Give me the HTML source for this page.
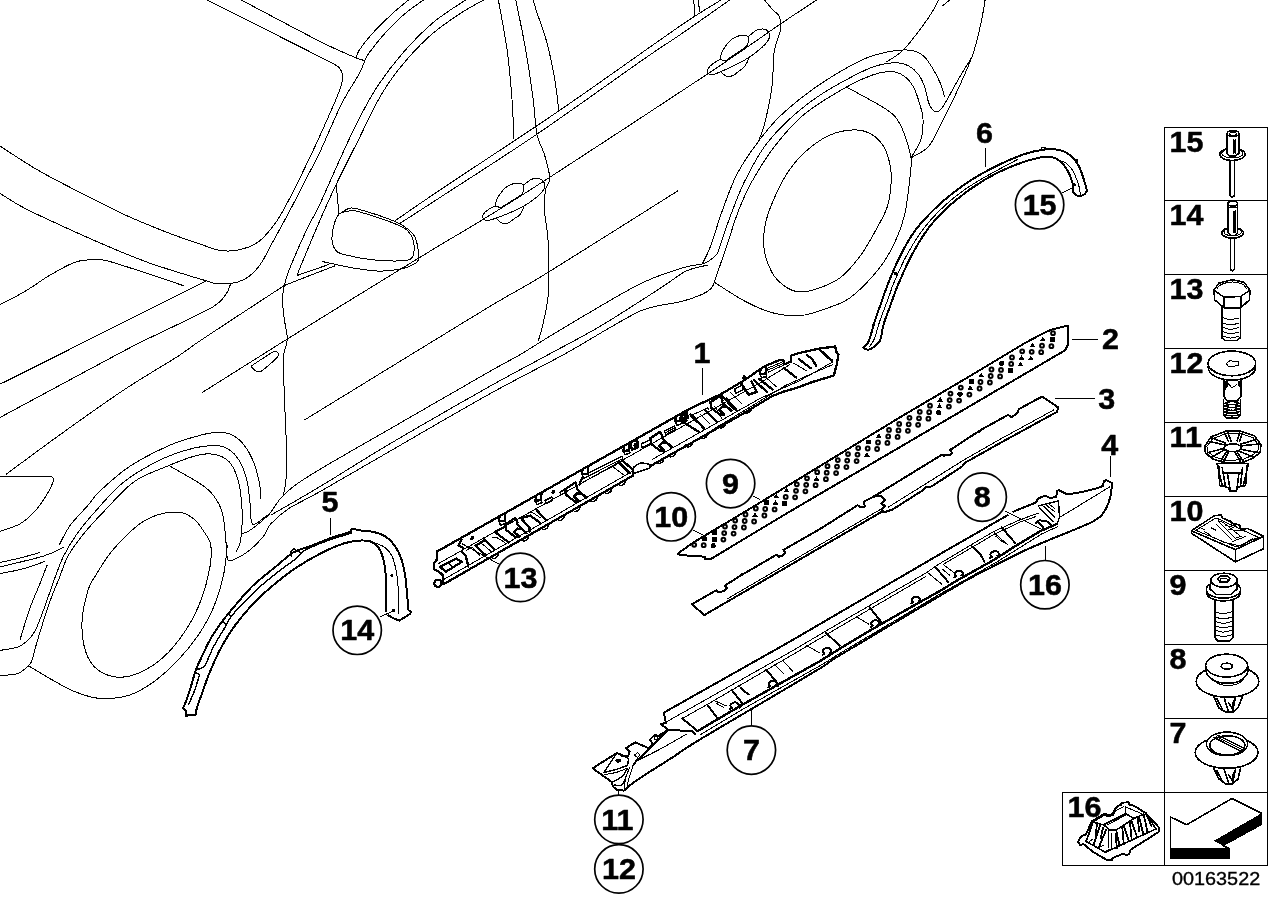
<!DOCTYPE html>
<html lang="en"><head><meta charset="utf-8"><title>Side skirt / wheel arch trim - parts diagram 00163522</title>
<style>
html,body{margin:0;padding:0;background:#fff;}
body{width:1288px;height:910px;overflow:hidden;}
svg{display:block;}
text{font-family:"Liberation Sans",sans-serif;fill:#000;}
.b{font-weight:bold;font-size:29.2px;stroke:#000;stroke-width:0.5px;stroke-linejoin:round;}
.car{fill:none;stroke:#000;stroke-width:1;}
.pt{fill:none;stroke:#000;stroke-width:2;stroke-linejoin:round;stroke-linecap:round;}
.pm{fill:none;stroke:#000;stroke-width:1.4;stroke-linejoin:round;stroke-linecap:round;}
.pn{fill:none;stroke:#000;stroke-width:1;}
.ld{fill:none;stroke:#000;stroke-width:1;}
.circ{fill:#fff;stroke:#000;stroke-width:1.7;}
.tb{fill:none;stroke:#000;stroke-width:1;}
.k{fill:#000;stroke:none;}
.w{fill:#fff;}
</style></head><body>
<svg width="1288" height="910" viewBox="0 0 1288 910" shape-rendering="crispEdges">
<rect x="0" y="0" width="1288" height="910" fill="#fff"/>
<g class="car">
<path d="M333,63.4 C334,64.1 337.4,65.7 339,67.5 C340.6,69.3 342.2,71.7 342.6,74.5 C343,77.3 342.8,79.5 341.4,84.5 C339.9,89.5 339.3,91.9 333.9,104.3 C328.5,116.7 317.4,141.6 309.1,159 C300.8,176.4 290.3,197.4 284.2,208.7 C278.1,220 276.8,221.5 272.5,227 C268.2,232.5 263.9,238 258.4,241.8 C252.9,245.6 246,248.4 239.6,249.8 C233.2,251.2 226.4,251.4 219.8,250.4 C213.2,249.4 208.5,246.9 200,244 C191.5,241.1 181.5,238 168.9,233.1 C156.3,228.2 139.9,221.8 124.2,214.5 C108.5,207.2 89,197 74.5,189.6 C60,182.2 49.7,177.1 37.3,169.8 C24.9,162.6 6.2,150.1 0,146.1 M241.2,0 C254.6,7 302.3,32.6 321.5,42.2 C340.7,51.9 349.1,54.9 356.3,57.9 C363.6,60.9 363.6,60 365,60.4 M356.3,57.9 C356.7,56.7 356.3,54.8 358.8,50.9 C361.3,47 365.8,40.8 371.2,34.8 C376.6,28.8 384.8,20.7 391,14.9 C397.2,9.1 405.5,2.5 408.4,0 M365,60.4 C365.6,59.2 365.6,57.7 368.7,53.4 C371.8,49.1 377.8,41.2 383.6,34.8 C389.4,28.4 396.9,20.7 403.5,14.9 C410.1,9.1 420.1,2.5 423.4,0 M365,60.4 C364,62.8 362.7,67.2 358.8,74.5 C354.9,81.8 348,91 341.4,104.3 C334.8,117.5 325,141.4 319,154 C313,166.6 310,171.2 305.5,180 C301,188.8 296.1,198.7 292,206.5 C287.9,214.3 284.7,220.2 281,227 C277.3,233.8 273.2,241.2 270,247 C266.8,252.8 264.7,257.7 262,261.9 C259.3,266.1 256.9,269.1 254,272 C251.1,274.9 248.4,277.4 244.6,279.3 C240.8,281.2 235.8,282.8 231.1,283.5 C226.3,284.2 220.2,283.9 216.1,283.5 C211.9,283.1 211.6,282.4 206.2,280.8 C200.8,279.2 193.4,277.1 183.9,274.1 C174.4,271.1 161.1,267.2 149.1,262.9 C137.1,258.5 125,253.6 111.8,248 C98.5,242.4 84.1,236 69.6,229.4 C55.1,222.8 36.4,214.3 24.8,208.3 C13.2,202.3 4.1,195.9 0,193.4 M465.6,0 C460.2,3.7 443.7,13.7 433.3,22.4 C422.9,31.1 412.6,41.9 403.5,52.2 C394.4,62.6 386.1,73.3 378.6,84.5 C371.2,95.7 365.4,106.5 358.8,119.3 C352.2,132.1 345.5,147 338.9,161.5 C332.3,176 324.3,194.9 319,206.2 C313.7,217.4 311.9,218.5 307,229 C302.1,239.5 293.1,260 289.3,269.4 C285.5,278.8 285.1,282.8 284.3,285.5 M483.5,0 C479.3,2.5 467.3,8.7 458.1,14.9 C448.9,21.1 438.2,28.2 428.3,37.3 C418.4,46.4 406.8,59.2 398.5,69.6 C390.2,79.9 385.2,87.8 378.6,99.4 C372,111 365.8,125 358.8,139.1 C351.8,153.2 343.3,169.4 336.4,183.9 C329.5,198.4 324.1,210.7 317.5,226 C310.9,241.3 300.2,267.3 296.8,275.6 M284.3,285.5 C290.1,283.2 310.6,275.2 319.1,271.9 C327.6,268.6 332.6,266.7 335.3,265.7 M339,214.2 C340.6,213.2 345.6,209.3 348.9,208.5 C352.2,207.7 351.4,207.2 358.9,209.3 C366.4,211.4 385.4,217.5 393.7,220.9 C402,224.3 404.9,226.5 408.6,229.6 C412.3,232.7 414.4,234.8 416,239.6 C417.6,244.4 418.9,254.1 418.5,258.2 C418.1,262.3 416.8,262.5 413.5,264.4 C410.2,266.3 404.4,268.3 398.6,269.4 C392.8,270.5 386.2,271.3 378.8,271.1 C371.4,270.9 363.4,269.7 353.9,268.1 C344.4,266.5 327,262.5 321.6,261.4 M348.9,211 C347.2,211.5 341.5,211.9 339,214.2 C336.5,216.5 335.2,220.5 334,224.7 C332.8,228.9 331.8,235.5 332,239.6 C332.2,243.7 333.3,247 335.3,249.5 C337.3,252 337.6,252.8 344,254.5 C350.4,256.2 363.9,258.9 373.8,259.9 C383.7,260.9 397.2,261.2 403.6,260.7 C410,260.2 410.6,259.7 412.3,257 C414,254.3 414.4,248.4 414,244.5 C413.6,240.6 412.4,236.6 409.8,233.4 C407.2,230.2 407.1,228.8 398.6,225.2 C390.1,221.6 367.2,214.1 358.9,211.7 C350.6,209.3 350.6,211.1 348.9,211 M394.9,220.9 C402.4,215.8 412.6,208.4 440,190 C467.4,171.6 519.3,137.9 559.3,110.6 C599.3,83.3 653,44.5 680,26.1 C707,7.7 714.2,4.4 721,0 M399.9,223.4 C406.6,219.1 417.2,212.4 440,197.5 C462.8,182.6 502.9,157.3 536.9,134.2 C570.9,111.1 620.1,75.6 644,59 C667.9,42.4 665.7,44.6 680,34.8 C694.3,25 721.4,5.8 729.7,0 M498.4,0 C499.8,8.3 504.8,33.1 507.1,49.7 C509.4,66.3 510.9,84.5 512,99.4 C513.1,114.3 513.7,132.5 514,139.1 M515.8,0 C517.4,8.3 522.8,33.1 525.7,49.7 C528.6,66.3 531.3,85.3 533.2,99.4 C535.1,113.5 535,125.1 536.9,134.2 C538.8,143.3 542.3,147.8 544.3,154 C546.3,160.2 547.9,167.1 548.8,171.4 C549.7,175.8 550,177 549.5,180.1 C549,183.2 546.3,185.1 545.5,190.2 C544.7,195.2 544.1,202 544.5,210.4 C544.9,218.8 547.4,227.3 548.1,240.8 C548.8,254.3 549.3,277.8 548.5,291.3 C547.7,304.8 545.2,313.4 543.5,321.6 C541.8,329.9 539.2,337.6 538.4,340.8 M533.2,0 C533.8,2.1 534.6,5.4 536.9,12.4 C539.2,19.4 543.8,31 546.8,42.2 C549.8,53.4 552.8,68.1 554.8,79.5 C556.8,90.9 558.1,105.4 558.8,110.6 M202.4,392.4 C216.6,383.5 251.3,361.4 287.3,339 C323.3,316.6 385.9,278.1 418.5,258.2 C451.1,238.2 461.4,232.7 483.2,219.3 C505,205.9 511.8,201.9 549.3,177.6 C586.8,153.3 669.5,99.3 708,73.7 C746.5,48.1 762.4,36.3 780.5,24 C798.6,11.7 810.6,4 816.6,0 M6.2,474.2 C15.5,467.4 42.4,447.3 62.1,433.2 C81.8,419.1 104.8,402.6 124.2,389.7 C143.6,376.8 165.6,364.3 178.4,356 C191.2,347.7 183.5,351.8 201.2,340 C218.8,328.2 270.4,294.6 284.3,285.5 M284.3,285.5 C284,287.8 282.4,293.6 282.4,299.2 C282.4,304.8 283.5,312.5 284.3,319.1 C285.1,325.7 287.4,333.2 287.3,339 C287.2,344.8 284.5,349.1 283.9,353.9 C283.3,358.7 283.4,359.6 283.5,368 C283.6,376.4 284.2,390.1 284.7,404.5 C285.2,418.9 286.5,441.8 286.7,454.2 C286.9,466.6 286.5,472.3 286,479.1 C285.5,485.9 283.9,492.5 283.5,495.2 M304.6,419.9 C329,404.9 418.6,349.9 451.2,330 C483.8,310.1 483.8,310 500,300.4 C516.2,290.8 518.9,290.4 548.5,272.1 C578.1,253.8 656.3,204.4 677.9,190.8 M250.8,366.3 C254.3,364 267.7,355.1 271.9,352.6 C276.1,350.2 274.9,351.5 276,351.6 C277.1,351.8 278.2,352.5 278.3,353.5 C278.4,354.5 279.6,354.7 276.9,357.6 C274.2,360.5 265.1,368.4 262,370.7 C258.9,373 259.2,371.6 258,371.5 C256.8,371.4 255.7,370.9 254.5,370 C253.3,369.1 251.4,366.9 250.8,366.3 M0,304.7 C4.1,302.5 16.5,296.4 24.8,291.5 C33.1,286.6 41.4,280.2 49.7,275.3 C58,270.4 67.5,265 74.5,262.4 C81.5,259.8 86.5,260 91.9,259.7 C97.3,259.4 97.3,258.3 106.8,260.7 C116.3,263.1 136.2,269.9 149.1,274.1 C161.9,278.3 178.1,283.9 183.9,285.8 M0,384.2 C9.4,379.5 41.9,363.4 56.6,356 C71.3,348.6 63.3,352.5 88.2,340 C113.1,327.5 186.5,290.7 206.2,280.8 M0,417.5 C19.1,407.2 90.1,368.9 114.3,356 C138.5,343.1 135.4,344.9 145.3,340 C155.2,335.1 162.5,331.9 173.9,326.3 C185.3,320.7 205,311.8 213.7,306.4 C222.4,301 223.3,297.7 226.1,294 C228.9,290.3 229.8,285.7 230.6,284 M50.9,476.1 C51.3,476.8 54,477.4 53.4,480.4 C52.8,483.4 50.3,488.8 47.2,494 C44.1,499.2 39.3,506.4 34.8,511.4 C30.2,516.4 25.7,520.6 19.9,523.9 C14.1,527.2 3.3,530.1 0,531.3 M59.3,544.9 C61.1,541.6 65.5,531.8 70.3,525.2 C75.1,518.6 83.1,511 87.9,505.4 C92.8,499.8 92.5,498.1 99.4,491.6 C106.3,485.2 117.6,474.4 129.2,466.7 C140.8,459 157.3,450.8 168.9,445.6 C180.5,440.4 190.9,437.9 198.8,435.7 C206.7,433.5 210.7,432.6 216.1,432.4 C221.5,432.2 226.5,432.4 231.1,434.4 C235.7,436.4 239.8,439.8 243.5,444.3 C247.2,448.9 250.7,455.1 253.4,461.7 C256.1,468.3 258.4,477.9 259.6,484.1 C260.9,490.3 260.7,496.5 260.9,499 M0,650.4 C2.9,649.9 13.2,648.6 17.6,647.1 C22,645.6 23.5,644.3 26.4,641.6 C29.3,638.9 32.3,636.2 35.2,630.7 C38.1,625.2 40.7,617.5 44,608.7 C47.3,599.9 51.6,586.7 54.9,577.9 C58.2,569.1 60,563.2 63.7,555.9 C67.4,548.6 71.4,541.7 76.9,534 C82.4,526.3 88.8,518.5 96.7,509.8 C104.6,501.1 113.4,490 124.2,481.6 C135,473.2 149.9,464.9 161.5,459.3 C173.1,453.7 184.7,450.4 193.8,448.1 C202.9,445.8 210.3,445.4 216.1,445.6 C221.9,445.8 224.9,447 228.6,449.3 C232.3,451.6 235.6,454.8 238.5,459.3 C241.4,463.9 244.1,470 246,476.6 C247.9,483.2 248.9,491.9 249.7,499 C250.5,506.1 250.1,514.7 250.9,518.9 C251.7,523.1 252,524.9 254.7,524.3 C257.4,523.7 265,516.7 267.1,515.2 M0,675.7 C2.9,675.3 12.8,675.1 17.6,673.5 C22.4,671.9 26.2,668 28.6,665.8 C31,663.6 30.8,663.2 31.9,660.3 C33,657.4 33.6,653.9 35.2,648.2 C36.9,642.5 39.2,634.3 41.8,626.3 C44.3,618.2 47.6,608 50.5,599.9 C53.4,591.8 56.4,585.2 59.3,577.9 C62.2,570.6 64.1,563.2 68.1,555.9 C72.1,548.6 77.3,541.7 83.5,534 C89.7,526.3 97,518.5 105.5,509.8 C114,501.1 123.6,489 134.2,481.6 C144.8,474.2 159,469.7 168.9,465.5 C178.8,461.3 187.2,458.2 193.8,456.3 C200.4,454.4 204.1,453.8 208.7,453.8 C213.2,453.8 217.4,454.6 221.1,456.3 C224.8,458 228.2,460 231.1,464.2 C234,468.4 236.8,475.4 238.5,481.6 C240.2,487.8 240.9,495.3 241.5,501.5 C242.1,507.7 242.2,513.6 242.2,518.9 C242.2,524.2 241.6,530.9 241.5,533.3 M241.5,533.3 C242.7,533 243.9,534.3 248.4,531.3 C252.9,528.3 262.4,521.2 268.3,515.2 C274.2,509.2 276.2,502.1 283.5,495.2 C290.8,488.3 294.4,485.1 312,474.1 C329.6,463.1 359.7,446.4 389.1,429.4 C418.5,412.4 466.4,384.8 488.4,372.2 C510.4,359.6 509.2,361.1 521.2,354 C533.2,346.9 541.3,341.2 560.7,329.7 C580.1,318.2 617.3,295.5 637.5,285.2 C657.7,274.9 671.2,271.6 682,268.1 C692.8,264.6 697.5,265.4 702.2,264 C706.9,262.6 707.8,261.7 710.3,260 C712.8,258.3 716.1,254.9 717.3,253.9 M241.5,533.3 C241.2,535 240.7,540.5 239.8,543.7 C238.9,546.9 236.6,551 236,552.4 M47.3,564.7 C46,568 42.5,577.2 39.6,584.5 C36.7,591.8 33,599.4 29.7,608.7 C26.4,618 21.4,635.2 19.8,640.5 M168.9,465.5 C173.9,468.4 191.8,478.3 198.8,482.9 C205.9,487.4 207.5,488.5 211.2,492.8 C214.9,497.1 218.8,502.9 221.1,508.9 C223.4,514.9 223.8,520.3 224.8,528.8 C225.8,537.3 226.9,554.7 227.3,559.9 M227.3,559.9 C228.3,559.9 230,561.3 233.5,559.9 C237,558.5 243.4,555.1 248.4,551.2 C253.4,547.3 259.7,540.8 263.4,536.3 C267.1,531.8 266.7,528.5 270.8,523.9 C274.9,519.3 280,514.3 288.2,508.9 C296.4,503.5 303.2,501.1 320,491.6 C336.8,482.1 361,467.9 389.1,451.7 C417.2,435.5 459.1,410.9 488.4,394.6 C517.7,378.3 543.9,365.5 564.7,354 C585.5,342.5 600.4,332.9 613.2,325.7 C626,318.4 633.4,313.9 641.5,310.5 C649.6,307.1 655,306.6 661.7,305.1 C668.5,303.6 675.2,303.2 682,301.4 C688.8,299.6 697.3,296.5 702.2,294.3 C707.1,292.1 709.3,290.3 711.3,288.3 C713.3,286.3 713.8,283.2 714.3,282.2 M270.8,515.2 C279,510.4 300.3,498.4 320,486.6 C339.7,474.8 361,460.9 389.1,444.3 C417.2,427.7 461.7,402.2 488.4,387.1 C515.1,372.1 530.7,364.2 549.5,354 C568.3,343.8 582.4,336.8 601.1,325.7 C619.8,314.6 647.6,296.4 661.7,287.3 C675.9,278.2 678.2,274.8 686,271.1 C693.8,267.4 704.5,266 708.2,265 M28.6,665.8 C32.1,667.9 42.1,674.2 49.7,678.5 C57.4,682.8 66.2,688.2 74.5,691.5 C82.8,694.8 90.3,697.8 99.4,698.4 C108.5,699 120.1,698 129.2,695.2 C138.3,692.4 145.7,687.6 154,681.6 C162.3,675.6 171.4,667.1 178.9,659.2 C186.4,651.3 193,643 198.8,634.3 C204.6,625.6 209.6,616.9 213.7,607 C217.8,597.1 221.3,585.1 223.6,574.7 C225.9,564.4 226.7,549.9 227.3,544.9 M0,562.5 C3.3,561.8 13.4,559.6 20,558 C26.6,556.4 36.3,553.5 39.6,552.6 M0,566.9 C7.3,565.1 33.4,559.2 44,555.9 C54.6,552.6 60.4,548.6 63.7,547.1 M0,573.5 C3.7,572.8 14.5,571.1 22,569.1 C29.5,567.1 41.2,562.7 45.1,561.4 M764.5,0 C765.9,1.7 770.8,7.6 773,10 C775.2,12.4 776.6,12.7 777.9,14.4 C779.1,16.1 780.1,17.9 780.5,20.5 C780.9,23.1 781.1,26.8 780.5,30.2 C779.9,33.6 778.1,36.8 777,40.8 C775.9,44.8 774.8,46.2 773.9,53.9 C773,61.6 773.5,75.3 771.9,87 C770.3,98.7 766.8,115.1 764.5,124.2 C762.2,133.3 759.3,138.7 758.3,141.6 M702.2,264 C703.6,261.1 706.9,255.7 710.3,246.8 C713.7,237.9 717.9,222.6 722.4,210.4 C726.9,198.2 731.1,185.4 737.1,173.9 C743.1,162.4 751.2,151.1 758.3,141.6 C765.3,132.1 770.9,125.1 779.4,116.8 C787.9,108.5 798.9,99.6 809.2,91.9 C819.6,84.2 831.6,76.6 841.5,70.8 C851.4,65 860.1,60.4 868.8,57.1 C877.5,53.8 886.7,52 893.7,50.9 C900.8,49.8 906.1,49.6 911.1,50.4 C916.1,51.2 919.8,52.7 923.5,55.9 C927.2,59.1 930.5,64.8 933.4,69.6 C936.3,74.4 939,80 940.9,84.5 C942.8,89 944,94.8 944.6,96.9 M717.3,253.9 C718.1,251.4 719.9,245.9 722.4,238.7 C724.9,231.4 728.8,219.9 732.5,210.4 C736.2,200.9 739.3,192 744.6,181.4 C749.9,170.8 757,156.9 764.5,146.6 C772,136.2 780.2,127.8 789.3,119.3 C798.4,110.8 808.8,102.8 819.1,95.7 C829.5,88.7 841.9,82 851.4,77 C860.9,72 868.8,68.2 876.3,65.8 C883.8,63.4 890.7,62.6 896.1,62.6 C901.5,62.6 904.9,63.8 908.6,65.8 C912.3,67.8 915.8,71 918.5,74.5 C921.2,78 923.1,82.4 924.7,87 C926.4,91.6 927,98 928.4,101.9 C929.8,105.8 931.5,109.1 933.4,110.6 C935.3,112 937.5,112 939.6,110.6 C941.7,109.1 942.7,107.1 945.8,101.9 C948.9,96.7 953.9,87 958.3,79.5 C962.6,72 969.6,60.8 971.9,57.1 M714.3,282.2 C716.3,276.3 722.3,258.8 726.4,246.8 C730.5,234.8 734.3,221.3 738.6,210.4 C742.9,199.5 746,192 752,181.4 C758,170.8 765.7,157.8 774.4,146.6 C783.1,135.4 792.2,124.2 804.2,114.3 C816.2,104.4 834.9,93.6 846.5,87 C858.1,80.4 866.3,77.1 873.8,74.5 C881.2,71.9 886.2,71.4 891.2,71.6 C896.2,71.8 899.9,73.2 903.6,75.8 C907.3,78.4 910.8,82.2 913.5,87 C916.2,91.8 918.2,98.9 919.8,104.3 C921.4,109.7 922.8,113.5 923,119.3 C923.2,125.1 923,132.7 921,139.1 C919,145.5 912.8,154.7 911.1,157.8 M846.5,87 C853.1,90.7 877.5,103.5 886.2,109.3 C894.9,115.1 895.3,116.7 898.6,121.7 C901.9,126.7 904,132.9 906.1,139.1 C908.2,145.3 910.5,152.1 911.1,159 C911.7,165.9 910.7,171.2 909.6,180.5 C908.5,189.8 907.1,204.5 904.6,214.9 C902.1,225.3 898.9,234.1 894.5,243.2 C890.1,252.3 885.7,260.4 878.3,269.5 C870.9,278.6 859.1,291.2 850,297.8 C840.9,304.4 832,306.4 823.9,309.3 C815.8,312.2 809,314.7 801.5,315.5 C794,316.3 786.1,315.5 779.1,314.3 C772.1,313.1 765.9,310.8 759.3,308.1 C752.7,305.4 746.9,302.4 739.4,298.1 C731.9,293.8 718.5,284.9 714.3,282.2 M911.1,157.8 C914,155.9 923.4,152.2 928.4,146.6 C933.4,141 936.8,132.1 940.9,124.2 C945,116.3 948.1,110.6 953.3,99.4 C958.5,88.2 967.3,69.5 971.9,57.1 C976.5,44.7 978.4,34.3 980.6,24.8 C982.8,15.3 984.4,4.1 985.1,0 M886.2,62.1 C889.1,60 897.4,55.9 903.6,49.7 C909.8,43.5 918.5,31.4 923.5,24.8 C928.5,18.2 930.9,14 933.4,9.9 C935.9,5.8 937.6,1.7 938.4,0 M483.2,219.3 C483.9,219.5 485.4,220.8 487.6,220.6 C489.8,220.4 492,219.6 496.4,218 C500.8,216.4 509.2,213.1 513.9,211 C518.6,208.9 520.8,207.9 524.5,205.7 C528.2,203.5 532.8,200.3 535.9,197.8 C539,195.3 541.4,192.9 542.9,190.8 C544.4,188.8 544.7,187.2 544.7,185.5 C544.7,183.8 543.9,181.9 542.9,180.7 C541.9,179.5 540.4,178.7 538.5,178.5 C536.6,178.3 534,178.2 531.5,179.3 C529,180.4 524.9,184.1 523.6,185 M483.2,219.3 C483.2,218.5 482.5,216 483.2,214.5 C483.9,213 485.6,211.5 487.6,210.1 C489.6,208.7 492.9,206.5 495,206.1 C497.1,205.7 499.4,207.6 500.3,207.9 M495,206.1 C495.4,204.9 495.9,201.2 497.2,198.7 C498.4,196.1 500.6,193 502.5,190.8 C504.4,188.6 506.5,186.8 508.7,185.5 C510.9,184.2 513.7,183.6 515.7,183.3 C517.8,183 519.7,183.3 521,183.7 C522.3,184.1 523.2,184.5 523.6,185.5 C524,186.5 523.9,188.4 523.6,189.9 C523.3,191.4 523.4,192.7 521.8,194.3 C520.2,195.9 517.5,197.2 513.9,199.5 C510.3,201.8 502.6,206.5 500.3,207.9 M496.4,218.4 C497,219 498.7,221.2 499.9,222 C501.1,222.8 501.9,223.2 503.4,223.3 C504.9,223.4 506.9,223.5 508.7,222.8 C510.4,222.1 512.1,220.1 513.9,218.9 C515.6,217.7 517.7,216.9 519.2,215.4 C520.7,213.9 521.9,211.6 522.7,210.1 C523.5,208.6 523.6,207.2 523.8,206.6 M708,73.7 C708.7,73.9 710.2,75.1 712.4,74.7 C714.6,74.3 716.8,73.4 721.2,71.5 C725.6,69.6 734,65.6 738.7,63.3 C743.4,60.9 745.6,59.7 749.3,57.2 C753,54.8 757.6,51.2 760.7,48.5 C763.8,45.8 766.2,43.2 767.7,41 C769.2,38.9 769.5,37.3 769.5,35.6 C769.5,33.9 768.7,32 767.7,30.9 C766.7,29.8 765.2,29.1 763.3,29 C761.4,28.9 758.8,29.1 756.3,30.3 C753.8,31.6 749.7,35.5 748.4,36.6 M708,73.7 C708,72.9 707.3,70.5 708,68.9 C708.7,67.3 710.4,65.7 712.4,64.2 C714.4,62.7 717.7,60.2 719.8,59.7 C721.9,59.2 724.2,60.9 725.1,61.1 M719.8,59.7 C720.2,58.4 720.8,54.8 722,52.1 C723.2,49.5 725.4,46.2 727.3,43.8 C729.2,41.5 731.3,39.5 733.5,38.1 C735.7,36.7 738.5,35.9 740.5,35.4 C742.5,35 744.5,35.2 745.8,35.5 C747.1,35.7 748,36.1 748.4,37.1 C748.8,38.1 748.7,40 748.4,41.5 C748.1,43 748.2,44.3 746.6,46 C745,47.7 742.3,49.2 738.7,51.8 C735.1,54.3 727.4,59.5 725.1,61.1 M721.2,71.9 C721.8,72.4 723.5,74.5 724.7,75.2 C725.9,76 726.7,76.3 728.2,76.3 C729.7,76.3 731.8,76.3 733.5,75.4 C735.2,74.6 737,72.5 738.7,71.2 C740.5,69.8 742.5,68.8 744,67.3 C745.5,65.7 746.7,63.3 747.5,61.7 C748.3,60.2 748.4,58.8 748.6,58.2 M82,621.9 C81.6,632.2 83.2,643.8 85.7,651.7 C88.2,659.6 91.7,664.9 96.9,669.1 C102.1,673.3 109.8,676.5 116.8,677.1 C123.8,677.7 131.2,676.3 139.1,672.9 C147,669.5 156.1,664 164,656.7 C171.9,649.5 180.1,638.9 186.3,629.4 C192.5,619.9 197.3,610 201.2,599.6 C205.1,589.2 208.3,576.4 209.9,567.3 C211.5,558.2 211.7,550.9 210.7,544.9 C209.7,538.9 206.5,535.6 203.7,531.3 C200.9,527 197.9,522.1 193.8,518.9 C189.7,515.7 185.1,512.8 178.9,512.2 C172.7,511.6 163.6,512.9 156.5,515.2 C149.4,517.6 144,520.3 136.6,526.3 C129.2,532.3 118.6,543.1 111.8,551.2 C105,559.3 99.9,568.6 96,575 C92.1,581.4 90.5,581.8 88.2,589.6 C85.9,597.4 82.4,611.5 82,621.9Z M764.2,249.7 C765.3,257.4 768.4,266 771.7,272 C775,278 779.6,282.4 784.1,285.7 C788.6,289 793.2,291.5 799,291.9 C804.8,292.3 811.9,290.7 818.9,288.2 C825.9,285.7 834.2,282.6 841.2,277 C848.2,271.4 855.3,262.6 861.1,254.7 C866.9,246.8 871.6,237.9 876,229.8 C880.4,221.7 885,214.3 887.5,206.2 C890,198.1 890.8,188.4 891.2,181.4 C891.6,174.4 891.1,169.8 889.9,164 C888.6,158.2 886.8,151.6 883.7,146.6 C880.6,141.6 876.3,137 871.3,134.2 C866.3,131.4 860.9,129.7 853.9,129.9 C846.9,130.1 837.4,131.6 829.1,135.4 C820.8,139.2 811.2,146.4 804.2,152.8 C797.2,159.2 792.2,165.4 786.8,173.9 C781.4,182.4 775.5,195 771.9,203.7 C768.3,212.4 766.3,218.3 765,226 C763.7,233.7 763.1,242 764.2,249.7Z M207.2,0 L333,63.4 M296.8,275.6 L329.1,264.4 M336.2,184.5 L339,214.2 M693.7,0 L694.9,16.1 M698.6,0 L699.4,12.4 M0,476.1 L50.9,476.1 M942.1,6.2 L949.6,0"/>
</g>
<g>
<path class="pt" d="M1073.4,192.7 C1073.8,193.1 1075,194.5 1076,195 C1077,195.5 1078.1,196 1079.5,195.9 C1080.9,195.8 1083.2,195.2 1084.5,194.3 C1085.8,193.4 1086.6,191.3 1087,190.7 M1087,190.7 C1086.4,188.7 1084.9,182.7 1083.5,178.5 C1082.1,174.3 1080.7,169.3 1078.5,165.4 C1076.3,161.5 1073.4,157.8 1070.4,155.3 C1067.4,152.8 1064.7,151.1 1060.3,150.2 C1055.9,149.2 1050.2,148.9 1044.1,149.6 C1038,150.3 1032,151.5 1023.9,154.3 C1015.8,157.1 1005,161.7 995.6,166.4 C986.2,171.1 976.7,176.2 967.3,182.6 C957.9,189 947.8,196.7 939,204.8 C930.2,212.9 921.5,222 914.7,231.1 C908,240.2 903.1,250.2 898.5,259.4 C893.9,268.6 890.1,278.6 887.1,286.3 C884.1,294 882.3,299.8 880.2,305.6 C878.1,311.5 876.2,316.8 874.7,321.4 C873.2,326 872.4,329.7 871.3,333.3 C870.1,336.9 869.1,340.8 867.8,343.2 C866.5,345.6 864.1,346.9 863.4,347.6 M863.4,347.6 C863.8,347.9 864.7,349 865.8,349.3 C866.9,349.6 868.3,349.8 869.8,349.3 C871.3,348.8 873.1,347.6 874.7,346.2 C876.4,344.8 878.5,343.2 879.7,341.2 C880.9,339.2 881.4,335.4 881.7,334.3 M881.7,334.3 C882,332.6 882.3,328.8 883.6,324.4 C884.9,319.9 887.1,314.4 889.6,307.6 C892.1,300.8 894.6,292.8 898.5,283.7 C902.4,274.6 907.3,263.1 912.7,253.3 C918.1,243.5 923.8,233.8 930.9,225 C938,216.2 946.4,208.2 955.1,200.8 C963.9,193.4 974,186.2 983.4,180.5 C992.8,174.8 1002.6,170.2 1011.7,166.4 C1020.8,162.6 1031.2,159.4 1038,157.9 C1044.8,156.4 1048.5,156.7 1052.2,157.3 C1055.9,157.9 1057.8,159.1 1060.3,161.3 C1062.8,163.5 1065.4,166.9 1067.4,170.4 C1069.4,173.9 1071.4,178.9 1072.4,182.6 C1073.4,186.3 1073.2,191 1073.4,192.7"/>
<path class="pn" d="M868.8,347.2 C869.7,345.9 872.4,343.5 874.2,339.2 C876,334.9 877.1,328.8 879.7,321.4 C882.3,314 887.3,301 889.6,294.7 C891.9,288.4 890.7,290.2 893.5,283.7 C896.3,277.1 901.4,264.9 906.6,255.4 C911.8,246 917.7,235.9 924.8,227 C931.9,218.1 940.7,209.2 949.1,201.8 C957.5,194.4 964,189.7 975.4,182.6 C986.8,175.5 1010.7,163.2 1017.8,159.3 M1058,160.3 C1059.3,160.8 1063.5,161.2 1066,163 C1068.5,164.8 1070.9,167.4 1073,171 C1075.1,174.6 1077.2,180.7 1078.5,184.6 C1079.8,188.5 1080.2,193 1080.5,194.7"/>
<path class="pm" d="M1041.5,150 V147.6 H1045 V149.6"/>
<circle class="k" cx="1076.2" cy="160.5" r="1.7"/>
<circle class="k" cx="895.3" cy="273.3" r="1.7"/>
<circle class="k" cx="1074.2" cy="184.8" r="1.7"/>
<circle class="k" cx="873.5" cy="325" r="1.7"/>
<path class="pt" d="M182.9,708.2 C183.2,707.6 183.7,707.3 184.8,704.3 C186,701.3 188,696 189.8,690.4 C191.6,684.8 193.7,676.2 195.7,670.6 C197.7,665 199,662.4 201.7,656.8 C204.3,651.2 208.1,643 211.6,637 C215.1,631 218.4,626.4 222.4,621.1 C226.4,615.8 230.2,611.2 235.3,605.3 C240.4,599.4 246.2,592.1 253.1,585.5 C260,578.9 270.2,571.2 276.9,565.7 C283.6,560.2 287.6,555.8 293.2,552.5 C298.8,549.2 304.1,548.6 310.3,546.2 C316.5,543.8 323.3,540.7 330.1,538.3 C336.9,535.9 347.7,532.8 351.2,531.7 M351.2,531.7 L350.5,529.8 L353.8,528.7 L359.1,530.4 M359.1,530.4 C361.3,530.6 367.9,530.7 372.3,531.7 C376.7,532.7 381.7,534.1 385.4,536.4 C389.1,538.7 392,541.9 394.7,545.6 C397.4,549.3 399.6,553.8 401.3,558.8 C403.1,563.8 404.2,569.8 405.2,575.9 C406.2,582 406.6,590 407.2,595.7 C407.8,601.4 408.3,607.8 408.5,610.2 M408.5,610.2 L411.1,612.1 L409.8,614.1 L399.3,620.7 L393.3,618.1 L388.3,615.4 M196.7,708.2 C197.5,705.9 199.5,700.3 201.7,694.4 C203.8,688.5 206.3,680.5 209.6,672.6 C212.9,664.7 217.2,654.8 221.5,646.9 C225.8,639 230,632.3 235.3,625.1 C240.6,617.9 246.8,610.4 253.1,603.8 C259.4,597.2 265.8,591.5 272.9,585.5 C280,579.5 288,573.2 295.8,568 C303.6,562.8 311.6,558.1 319.5,554 C327.4,549.9 336.7,545.8 343.3,543.6 C349.9,541.4 354.5,540.9 359.1,540.6 C363.7,540.3 367.6,540.3 370.9,541.6 C374.2,542.9 376.7,544.7 378.9,548.2 C381.1,551.7 382.9,557 384.1,562.7 C385.3,568.4 385.8,574.4 386.1,582.5 C386.4,590.6 386.1,606.7 386.1,611.5 M182.9,708.2 L185.8,711.2 L185.8,715.7 L195.7,714.6 L196.7,708.2"/>
<path class="pm" d="M294.7,559.8 C292.4,561.4 286.7,565.1 280.8,569.7 C274.9,574.3 266,581.2 259.1,587.5 C252.2,593.8 243.9,602.5 239.3,607.3 C234.7,612.1 232.7,614.7 231.4,616.2 M226.4,625.1 C224.2,628.7 217.1,640.1 213.5,646.9 C209.9,653.7 207.4,661.9 204.6,665.7 C201.8,669.5 198,669 196.7,669.6 M195.7,672.6 L199.7,674.6 L194.7,690.4 L188.8,704.3 M228.4,614.5 L231.4,616.2 L229,619.5 L226.4,625.1 L223,622"/>
<path class="pm" d="M291.5,556 L291,551.5 L294,549 L297.5,551 L301,553 L303,551.5 L299,556 L294.7,559.8"/>
<path class="pm" d="M303,551.5 C304.2,550.9 305.8,549.6 310.3,547.6 C314.8,545.6 323.3,542.2 330.1,539.8 C336.9,537.4 347.7,534.3 351.2,533.2"/>
<path class="pn" d="M370.9,541.6 C373.1,542.5 380.6,544.5 384.1,546.9 C387.6,549.3 389.9,551.7 392,556.1 C394.1,560.5 395.5,566.7 396.6,573.3 C397.7,579.9 398.3,588.9 398.6,595.7 C398.9,602.5 398.6,611 398.6,614.1"/>
<circle class="k" cx="391.8" cy="575.5" r="1.6"/>
<circle class="k" cx="393.4" cy="610.4" r="1.6"/>
<path class="pt" d="M677.5,553.8 L692.4,543.1 L763.2,500.7 L900,417.3 L971.4,375.2 L1025,343 L1040,335 M1025,343 C1027.5,341.7 1035.5,337.2 1040,335 C1044.5,332.8 1047.1,331.2 1051.8,329.6 C1056.5,328.1 1065.2,326.4 1067.9,325.7 M1067.9,325.7 L1067.9,344.8 L1065.2,350.2 M1065.2,350.2 L900,447.1 L790,511.4 L710.1,559.4 L705.4,559.4 L704.5,556.6 L694.2,556.2 L679.3,554.8 L677.5,553.8"/>
<g class="pn" style="stroke-width:2" shape-rendering="geometricPrecision"><circle cx="1053" cy="333.2" r="1.9"/><circle cx="1051.4" cy="346.2" r="1.9"/><circle cx="1042" cy="345.7" r="1.9"/><circle cx="1041.2" cy="352.2" r="1.9"/><circle cx="1031.7" cy="351.8" r="1.9"/><circle cx="1022.2" cy="351.3" r="1.9"/><circle cx="1012" cy="357.4" r="1.9"/><circle cx="1011.2" cy="363.9" r="1.9"/><circle cx="1001" cy="369.9" r="1.9"/><circle cx="1000.1" cy="376.4" r="1.9"/><circle cx="991.5" cy="369.5" r="1.9"/><circle cx="990.7" cy="376" r="1.9"/><circle cx="989.9" cy="382.5" r="1.9"/><circle cx="980.5" cy="382" r="1.9"/><circle cx="979.6" cy="388.5" r="1.9"/><circle cx="969.4" cy="394.6" r="1.9"/><circle cx="960.8" cy="387.6" r="1.9"/><circle cx="959.1" cy="400.6" r="1.9"/><circle cx="950.5" cy="393.6" r="1.9"/><circle cx="949.7" cy="400.1" r="1.9"/><circle cx="948.9" cy="406.6" r="1.9"/><circle cx="930" cy="405.7" r="1.9"/><circle cx="929.2" cy="412.2" r="1.9"/><circle cx="928.4" cy="418.7" r="1.9"/><circle cx="919.8" cy="411.8" r="1.9"/><circle cx="919" cy="418.3" r="1.9"/><circle cx="918.1" cy="424.8" r="1.9"/><circle cx="909.5" cy="417.8" r="1.9"/><circle cx="908.7" cy="424.3" r="1.9"/><circle cx="907.9" cy="430.8" r="1.9"/><circle cx="899.2" cy="423.9" r="1.9"/><circle cx="898.5" cy="430.4" r="1.9"/><circle cx="897.6" cy="436.9" r="1.9"/><circle cx="889" cy="429.9" r="1.9"/><circle cx="888.2" cy="436.4" r="1.9"/><circle cx="887.4" cy="442.9" r="1.9"/><circle cx="878" cy="442.5" r="1.9"/><circle cx="877.1" cy="449" r="1.9"/><circle cx="867.7" cy="448.5" r="1.9"/><circle cx="858.2" cy="448.1" r="1.9"/><circle cx="857.5" cy="454.6" r="1.9"/><circle cx="856.6" cy="461.1" r="1.9"/><circle cx="848" cy="454.1" r="1.9"/><circle cx="847.2" cy="460.6" r="1.9"/><circle cx="846.4" cy="467.1" r="1.9"/><circle cx="837.8" cy="460.1" r="1.9"/><circle cx="837" cy="466.6" r="1.9"/><circle cx="836.1" cy="473.1" r="1.9"/><circle cx="827.5" cy="466.2" r="1.9"/><circle cx="826.7" cy="472.7" r="1.9"/><circle cx="825.9" cy="479.2" r="1.9"/><circle cx="817.2" cy="472.2" r="1.9"/><circle cx="815.6" cy="485.2" r="1.9"/><circle cx="807" cy="478.3" r="1.9"/><circle cx="806.2" cy="484.8" r="1.9"/><circle cx="805.4" cy="491.3" r="1.9"/><circle cx="796.8" cy="484.3" r="1.9"/><circle cx="796" cy="490.8" r="1.9"/><circle cx="795.1" cy="497.3" r="1.9"/><circle cx="785.7" cy="496.9" r="1.9"/><circle cx="774.6" cy="509.4" r="1.9"/><circle cx="765.2" cy="509" r="1.9"/><circle cx="764.4" cy="515.5" r="1.9"/><circle cx="755.8" cy="508.5" r="1.9"/><circle cx="754.1" cy="521.5" r="1.9"/><circle cx="745.5" cy="514.5" r="1.9"/><circle cx="744.7" cy="521" r="1.9"/><circle cx="743.9" cy="527.5" r="1.9"/><circle cx="735.2" cy="520.6" r="1.9"/><circle cx="734.5" cy="527.1" r="1.9"/><circle cx="733.6" cy="533.6" r="1.9"/><circle cx="725" cy="526.6" r="1.9"/><circle cx="724.2" cy="533.1" r="1.9"/><circle cx="723.4" cy="539.6" r="1.9"/><circle cx="703.7" cy="545.2" r="1.9"/><circle cx="694.2" cy="544.8" r="1.9"/></g>
<path class="k" d="M1049.7,337.4 h5 v4.6 h-5z M1042.8,336.4 l2.8,4.6 h-5.6z M1032.5,342.5 l2.8,4.6 h-5.6z M1030.9,355.5 l2.8,4.6 h-5.6z M1021.5,355 l2.8,4.6 h-5.6z M1020.6,361.5 l2.8,4.6 h-5.6z M1007.9,368.1 h5 v4.6 h-5z M1001.8,363.4 m-2.6,0 a2.6,2.6 0 1,0 5.2,0 a2.6,2.6 0 1,0 -5.2,0 M981.2,372.7 l2.8,4.6 h-5.6z M968.5,379.3 h5 v4.6 h-5z M970.2,385.3 l2.8,4.6 h-5.6z M960,394.1 m-2.6,0 a2.6,2.6 0 1,0 5.2,0 a2.6,2.6 0 1,0 -5.2,0 M940.2,396.9 l2.8,4.6 h-5.6z M939.5,403.4 l2.8,4.6 h-5.6z M938.6,412.7 m-2.6,0 a2.6,2.6 0 1,0 5.2,0 a2.6,2.6 0 1,0 -5.2,0 M878.8,433.2 l2.8,4.6 h-5.6z M866,439.7 h5 v4.6 h-5z M866.9,452.2 l2.8,4.6 h-5.6z M816.5,475.9 l2.8,4.6 h-5.6z M786.5,487.6 l2.8,4.6 h-5.6z M782.4,501.1 h5 v4.6 h-5z M776.2,493.6 l2.8,4.6 h-5.6z M775.5,500.1 l2.8,4.6 h-5.6z M763.5,500.2 h5 v4.6 h-5z M755,512.2 l2.8,4.6 h-5.6z M712.2,530.4 h5 v4.6 h-5z M711.5,536.9 h5 v4.6 h-5z M713.1,545.7 m-2.6,0 a2.6,2.6 0 1,0 5.2,0 a2.6,2.6 0 1,0 -5.2,0 M704.5,538.7 m-2.6,0 a2.6,2.6 0 1,0 5.2,0 a2.6,2.6 0 1,0 -5.2,0"/>
<path class="pt" d="M704.3,615.1 L691.8,604.2 L716.1,590.4 L718.1,592 L723.1,591.4 L727,588.4 L725,585.5 L738.9,576.6 L776.4,554.8 L778.4,556.8 L782.4,555.8 L785.3,552.8 L783.4,549.9 L820,529 L857.7,505.2 L860.5,507.3 L864.7,506.6 L864,501.7 L873.1,496.9 L941.6,454.9 L943.7,455.6 L950,454.9 L952.1,452.8 L950,450 L981.3,429.6 L1008,415 L1011.6,417.1 L1017,413.6 L1018.8,409.1 L1042,396.6 L1058,407.3 L1057.1,411.8 M873.1,496.9 L880.1,495.5 L885,499.7 L881.5,503.8 L885,505.9 L881.5,509.4 L884.3,512.2 M704.3,615.1 L882.2,511.5 L884.3,512.2 L892.7,509.4 L923.4,489.9 L926.2,487.1 L931.8,486.4 L962.5,466.1 L965.3,462.6 L1000,443.1 L1057.1,411.8"/>
<path class="pn" d="M727,599 L880,509.7 M888,507.3 L924,484.9 L963,460.5 L1000,439.3 L1054,409.8"/>
<circle class="k" cx="741.8" cy="574.6" r="1.6"/>
<circle class="k" cx="979.4" cy="431.2" r="1.6"/>
<circle class="pt" cx="437.9" cy="583.3" r="3.6" style="stroke-width:2.2"/>
<ellipse class="k" cx="472.2" cy="538.2" rx="1.8" ry="2.4" transform="rotate(30 472.2 538.2)"/>
<ellipse class="k" cx="553.4" cy="492" rx="1.8" ry="2.4" transform="rotate(30 553.4 492)"/>
<ellipse class="k" cx="635.2" cy="445" rx="1.8" ry="2.4" transform="rotate(30 635.2 445)"/>
<ellipse class="k" cx="744" cy="377.5" rx="1.8" ry="2.4" transform="rotate(30 744 377.5)"/>
<path class="pt" style="stroke-width:2.3" d="M437.3,551.4 L686.7,410.4 L697.2,405.2 L720.9,394.2 L743.4,380.8 L764.5,366.3 L780.3,359.7 L783.6,360.4 L784.3,364.3 L790.9,361.7 L790.9,355.7 L798.8,353.1 L819.9,348.5 L835.1,346.5 L836.4,351.8 L838.4,354.4 L837.1,363 L833.8,375.5 L825.2,378.2 L812,382.1 L796.2,388.1 L784.3,391.4 L772.4,396 L759.2,403.9 L739.4,415.8 M437.3,551.4 L436.6,560 L433.7,563.3 L434,569.2 L439.9,572.5 L443.2,575.8 L443.2,584.4 M443.2,584.4 L632.6,475.8 M649.8,466.4 L739.4,415.8 M439.9,566.6 L456.4,558.6 L461.7,561.9 L445.8,571.8Z M462.3,552 C462.9,552.7 464.6,553.6 465.6,556 C466.6,558.4 467.9,564.8 468.3,566.6 M461.7,539.5 L458.4,545.5 L463,548 M499.5,516.7 L498.9,521.3 L504.7,520.7 L504.9,514.1 M536,496.1 L535.4,500.7 L541.2,500.1 L541.4,493.5 M582.5,469.8 L581.9,474.4 L587.7,473.8 L587.9,467.2 M624,446.3 L623.4,450.9 L629.2,450.3 L629.4,443.7 M676,416.9 L675.4,421.5 L681.2,420.9 L681.4,414.3 M681,414.1 L680.4,418.7 L686.2,418.1 L686.4,411.5 M760.5,369.5 L759.9,374.1 L765.7,373.5 L765.9,366.9 M475.2,545.5 L485.3,554.8 M477.5,544.7 L483.7,540.8 L483.7,538.5 L494.6,549.3 M495.4,531.5 L504.7,526.8 M495.4,532.3 L508.6,542.4 M521,518.3 L529.5,527.6 L529.5,531.5 M523.3,517.5 L530.3,515.6 L540.4,523 M535.7,509 L545.5,519.8 M581.8,478.6 L579.5,484.5 M618.1,461.5 L630,473.4 M622,460.2 L632.6,469.4 L633.3,474.7 M682.8,414 L686.7,417.9 M682.8,421.9 L698.6,431.8 M692,415.3 L703.9,428.5 M705.2,410 L717.1,421.9 M722.2,396 L734.1,409.2 M726.2,398.6 L736.8,410.5 M740.7,382.8 L748.6,394.7 L756.6,392 L751.3,381.5 M753.9,380.2 L767.1,392 M759.2,378.8 L772.4,389.4 M784.3,368.3 L796.2,377.5 M798.8,359 L810.7,368.3 M819.9,349.8 L831.8,360.4 M505.5,524.5 L515.3,517.9 L517.5,522.6 L516.9,523.9 L526.5,533.1 M505.5,524.5 L506.2,530 L514.8,536.7 L519.4,536.7 L514.1,531.9 L517.4,528.6 L520.7,528.8 M565.3,489.2 L575.1,482.6 L577.3,487.3 L576.7,488.6 L586.3,497.8 M565.3,489.2 L566,494.7 L574.6,501.4 L579.2,501.4 L573.9,496.6 L577.2,493.3 L580.5,493.5 M650.4,438.3 L660.2,431.7 L662.4,436.4 L661.8,437.7 L671.4,446.9 M650.4,438.3 L651.1,443.8 L659.7,450.5 L664.3,450.5 L659,445.7 L662.3,442.4 L665.6,442.6 M710.4,402.3 L720.2,395.7 L722.4,400.4 L721.8,401.7 L731.4,410.9 M710.4,402.3 L711.1,407.8 L719.7,414.5 L724.3,414.5 L719,409.7 L722.3,406.4 L725.6,406.6 M681.4,415.9 L686.7,411.3 L688,417.9 L682.7,420.5Z M630,442.3 L637.3,439.7 L637.6,447.6 L632,449.6Z M690.6,414.6 L693.3,418.6 L700,423.8 M806.7,355.1 C807.6,355.8 810.5,357.2 812,359 C813.5,360.8 815.3,364.5 816,365.6"/>
<path class="pm" d="M632.6,475.8 L634,466.8 L640.5,462.8 L645.8,463.5 L651,464.8 L649.8,468.1 L641.8,470.7 L634,473.4 M491.2,556.4 q1,3.4 4.5,1.4 q2.5,-1 2.5,-4.2 M521.5,539 q1,3.4 4.5,1.4 q2.5,-1 2.5,-4.2 M541.3,527.6 q1,3.4 4.5,1.4 q2.5,-1 2.5,-4.2 M557.2,518.5 q1,3.4 4.5,1.4 q2.5,-1 2.5,-4.2 M573,509.4 q1,3.4 4.5,1.4 q2.5,-1 2.5,-4.2 M590.2,499.6 q1,3.4 4.5,1.4 q2.5,-1 2.5,-4.2 M604.5,491.4 q1,3.4 4.5,1.4 q2.5,-1 2.5,-4.2 M618.5,483.3 q1,3.4 4.5,1.4 q2.5,-1 2.5,-4.2 M656.5,461.5 q1,3.4 4.5,1.4 q2.5,-1 2.5,-4.2 M668.5,454.7 q1,3.4 4.5,1.4 q2.5,-1 2.5,-4.2 M685.5,444.9 q1,3.4 4.5,1.4 q2.5,-1 2.5,-4.2 M700.5,436.3 q1,3.4 4.5,1.4 q2.5,-1 2.5,-4.2 M718.5,426 q1,3.4 4.5,1.4 q2.5,-1 2.5,-4.2 M744.5,411.1 q1,3.4 4.5,1.4 q2.5,-1 2.5,-4.2 M498.9,521.3 L500.5,525.2 L505.5,523.2 L504.7,520.7 M535.4,500.7 L537,504.6 L542,502.6 L541.2,500.1 M581.9,474.4 L583.5,478.3 L588.5,476.3 L587.7,473.8 M623.4,450.9 L625,454.8 L630,452.8 L629.2,450.3 M675.4,421.5 L677,425.4 L682,423.4 L681.2,420.9 M680.4,418.7 L682,422.6 L687,420.6 L686.2,418.1 M759.9,374.1 L761.5,378 L766.5,376 L765.7,373.5 M545,500.5 L552,497 L552.8,500.2 L545.8,503.8Z M641.2,443.7 L651.1,439.7 L651.7,443 L641.8,447.6Z M734.8,388.7 L742,385.4 L743.4,389.4 L735.4,393.4Z M560,492 L565,489.5 L565.5,492.5 L560.5,495Z"/>
<path class="pn" d="M438,563.8 L760,382.9 L790,364.5 M443.2,579.8 L632,471.5 M652,459.5 L760,398.5 L800,380.5 L833.1,361.7 M700,437.5 L785.6,385.4 L812,373.6 L833.1,364.5 M447.9,562.5 L453.5,568 M587.7,473.4 L622,456.2 L623.4,460.8 L589.7,478.6Z M588.7,476 L622.7,458.5 M664.3,431.1 L674.8,425.8 L675.6,429.3 L665.5,434.6Z M664.9,432.9 L675.2,427.6 M767.1,368.3 L783,361.7 L784,365 L768.5,372Z M767.8,370.1 L783.5,363.4 M482.2,543.9 L491.5,551.7 M492.3,537.7 L496.9,537.7 L504.7,542.4 M529.5,512.5 L532.6,512.5 L541.2,518.3 M612.8,466.8 L623.4,474.7 M699.9,413.9 L710.5,424.5 M714.5,406 L722,418.5 M764.5,376.2 L776.4,386.8 M793.5,363 L806.7,370.9 M822.6,353.8 L827.8,358.4 M693.2,414.5 L707.7,407.9 L709,409.9 M730,392 L742,404 M568,487 L573,484.5 L577.2,482.6 M466,550.5 L472,547 L480,555.5"/>
<ellipse class="k" cx="618.4" cy="760.6" rx="3" ry="2"/>
<circle class="pn" cx="656.2" cy="738.2" r="1.8"/>
<path class="pt" style="stroke-width:2.4" d="M697.5,731.1 L742.4,704.7 L820,661.1 L840,648.6 L873,628.8 L912.5,606.3 L940,590.9 L958.7,579.5 L994.6,559.5 L1014.7,546.5 L1040.5,531 L1057.1,523.9"/>
<path class="pt" d="M663.9,712.6 L790,641.5 L940,554.1 L1007.5,515.3 M1013.3,511.7 L1036.2,502.4 L1037.7,498.8 L1044.9,495.6 L1050.6,498.1 L1056.3,496.6 L1057.1,490.9 L1059.2,490.2 L1067.1,494.5 M1067.1,494.5 C1069.8,494 1078.9,492.6 1083.6,491.6 C1088.3,490.6 1091.9,489.6 1095.1,488.7 C1098.3,487.8 1101.7,486.4 1103,485.9 M1103,485.9 L1103.7,481.5 L1105.9,480.1 L1112.4,483 M628.2,786.4 C630.9,784.5 637.2,779.9 644.3,775.2 C651.4,770.6 662.9,763.6 670.8,758.5 C678.7,753.4 683.6,749.6 691.8,744.5 C699.9,739.4 708.3,734.5 719.7,727.7 C731.1,721 743.3,713.9 760,704 C776.7,694.1 806.7,676.5 820,668.4 C833.3,660.3 820,667.3 840,655.2 C860,643.1 918.5,608.5 940,595.8 C961.5,583.1 959.1,584.3 968.7,579 C978.3,573.7 987.9,569 997.5,564.1 C1007.1,559.2 1016.6,554.2 1026.2,549.8 C1035.8,545.4 1046.3,541.2 1054.9,537.6 C1063.5,534 1071.7,530.8 1077.9,528.2 C1084.1,525.6 1088.5,523.8 1092.3,521.8 C1096.1,519.8 1098.5,518.4 1100.9,516 C1103.3,513.6 1105,510.5 1106.6,507.4 C1108.1,504.3 1109.4,500.4 1110.2,497.3 C1111,494.2 1111.2,491.1 1111.6,488.7 C1112,486.3 1112.3,483.9 1112.4,483 M663.9,712.6 L665.9,722.8 L661.1,724.2 L668,729.8 L649.9,748.7 L635.9,761.3 L633.1,765.5 M668,729.8 L658.3,736.1 L654.8,734.7 L649.9,739.6 L652.7,743.8 L648.5,748 L635.2,742.4 L626.1,748 L629.6,751.5 L628.2,755.7 L623.3,756.4 L617,752.9 L592.6,768.3 L612.1,782.2 L612.8,786.4 L617,789.9 L624,790.6 L628.2,786.4 M668,729.8 L691.8,731.2 L695.3,734 M682.3,718.5 L696.2,729.8 M707.4,704.7 L717.3,717.9 M731.8,690.2 L742.4,703.4 M766.2,669.7 L776.7,682.2 M826.3,633.1 L839.5,645.6 M869.7,607.4 L882.3,623.3 M935.9,567.7 L948.4,582.2 M1001.8,527.5 L1015.4,543.3 M971.6,546.2 C973,547.5 977.9,551.4 980,554 C982.1,556.6 983.8,560.7 984.5,562 M730.1,709.2 l1.8,-1.2 q-3.4,-2.6 0.6,-5 q4.6,-1.8 6.2,1.6 q0.6,1.6 -1.4,2.6 l2.4,0.4 M768.4,687.4 l1.8,-1.2 q-3.4,-2.6 0.6,-5 q4.6,-1.8 6.2,1.6 q0.6,1.6 -1.4,2.6 l2.4,0.4 M822.6,654.7 l1.8,-1.2 q-3.4,-2.6 0.6,-5 q4.6,-1.8 6.2,1.6 q0.6,1.6 -1.4,2.6 l2.4,0.4 M870.8,627 l1.8,-1.2 q-3.4,-2.6 0.6,-5 q4.6,-1.8 6.2,1.6 q0.6,1.6 -1.4,2.6 l2.4,0.4 M911.4,603.4 l1.8,-1.2 q-3.4,-2.6 0.6,-5 q4.6,-1.8 6.2,1.6 q0.6,1.6 -1.4,2.6 l2.4,0.4 M954.3,577.4 l1.8,-1.2 q-3.4,-2.6 0.6,-5 q4.6,-1.8 6.2,1.6 q0.6,1.6 -1.4,2.6 l2.4,0.4 M990.2,558 l1.8,-1.2 q-3.4,-2.6 0.6,-5 q4.6,-1.8 6.2,1.6 q0.6,1.6 -1.4,2.6 l2.4,0.4 M1036.2,523.2 L1039.1,520.3 L1046.3,521 L1052,525.4 M1039.1,523.2 L1043.4,527.5 L1042.7,530.4"/>
<path class="pm" d="M617,752.9 L603.8,772.4 M603.8,772.4 C605.7,772 611,770.9 615,769.7 C619,768.6 625.4,766.2 627.5,765.5 M617,752.9 L624,755.5 L628.5,759 L627.5,765.5 M612.1,782.2 C613.7,781.3 619.3,778.9 621.9,776.6 C624.5,774.3 626.6,769.7 627.5,768.3 M614.9,785 C616.1,785 620,786.4 621.9,785 C623.8,783.6 625.4,778 626.1,776.6 M1038.4,506 L1058.5,500.9 L1059.5,517.5 L1057.1,523.9"/>
<path class="pn" d="M635.9,761.3 C639.6,759.4 649.8,754.6 658.3,750.1 C666.8,745.6 682.1,736.7 686.9,734 M633.1,765.5 L629,778 L626.5,789 M629.6,767 L625.5,778.5 L624,789 M604.5,774.5 C606.5,774.1 612.6,773.4 616.3,772.4 C620,771.4 625,769 626.8,768.3 M634.5,755 L637.3,752.7 L640.3,755 L637.3,757.5Z M666.5,721.8 L790,652.2 L840,622.7 L924.6,573.8 L940,563.4 L993.1,531.8 L1020.4,519.6 L1038.4,513.1 M682.3,718.5 L706.8,704.7 L790,656.2 L840,626.6 L925.7,576.5 M943.1,564.4 L993.9,534.5 L1020.4,522 L1036,516.5 M699.5,735.2 L744,708.5 L822,664.6 L842,652 L940,594 L996,562.5 L1042,533.8 L1058,526.5 M714.7,700.7 L726.6,706 M738.4,685.5 L750.3,695.4 M774.1,664.4 L784.6,674.3 M782,659.8 L793.2,671.7 M806.4,645.3 L820,653.2 M856.5,616.7 L869.1,624.4 M927.3,572.3 L941.8,584.2 M943.1,564.4 L956.3,574.3 M993.9,532.5 L1007.5,544.7 M716.5,703.5 L724,707.5 M740.5,688.5 L748,694.8 M995.5,536 L1004.5,543.5 M942.2,569 L950,575.5 M1059.5,517.5 L1110.2,486.6 M1039.1,507.4 L1053.5,521.8 M1043.4,506 L1054.9,517.5 M1046.3,505.2 L1054.9,511.7 M1049.5,504.5 L1055,508.5"/>
</g>
<g class="ld"><path d="M751.4,709.1 L751.4,726.5 M1004.7,510.7 L1044.5,530.6 M752.7,495.9 L759.6,499.4 M693,530.1 L702.9,535 M618.9,790.6 L618.9,795 M498.6,563.9 L461.7,543.5 M379.7,617.1 L392.8,611.1 M1062.3,192.7 L1073.4,187.2 M1045.5,546.4 L1045.5,560 M702.4,368.3 L702.4,394.7 M1072.3,339.1 L1097.9,339.1 M1055,398.4 L1094.6,398.4 M1110.1,456.2 L1110.1,477.2 M330.3,518.2 L330.3,535.4 M985.5,148.2 L985.5,167.4"/></g>
<g text-anchor="middle" class="b" shape-rendering="auto" opacity="0.999">
<circle class="circ" cx="751.4" cy="750.1" r="24.2"/>
<circle class="circ" cx="982.2" cy="497.1" r="24.2"/>
<circle class="circ" cx="730.6" cy="483.6" r="24.2"/>
<circle class="circ" cx="671.2" cy="516.8" r="24.2"/>
<circle class="circ" cx="618.9" cy="819.4" r="24.2"/>
<circle class="circ" cx="618.9" cy="868.9" r="24.2"/>
<circle class="circ" cx="520.4" cy="577.4" r="24.2"/>
<circle class="circ" cx="357.2" cy="630.3" r="24.2"/>
<circle class="circ" cx="1039.6" cy="204.8" r="24.2"/>
<circle class="circ" cx="1044.9" cy="584.7" r="24.2"/>
<text transform="translate(751.4,760.2) scale(1.045,1)">7</text>
<text transform="translate(982.2,507.2) scale(1.045,1)">8</text>
<text transform="translate(730.6,493.7) scale(1.045,1)">9</text>
<text transform="translate(671.2,526.9) scale(1.045,1)">10</text>
<text transform="translate(617.4,829.5) scale(1.045,1)">11</text>
<text transform="translate(618.9,879) scale(1.045,1)">12</text>
<text transform="translate(520.4,587.5) scale(1.045,1)">13</text>
<text transform="translate(357.2,640.4) scale(1.045,1)">14</text>
<text transform="translate(1039.6,214.9) scale(1.045,1)">15</text>
<text transform="translate(1044.9,594.8) scale(1.045,1)">16</text>
<text transform="translate(702,362.8) scale(1.045,1)">1</text>
<text transform="translate(1110.5,349.4) scale(1.045,1)">2</text>
<text transform="translate(1106.7,409.3) scale(1.045,1)">3</text>
<text transform="translate(1109.7,454.8) scale(1.045,1)">4</text>
<text transform="translate(330.1,512.1) scale(1.045,1)">5</text>
<text transform="translate(984.6,142.9) scale(1.045,1)">6</text>
</g>
<path class="tb" d="M1164.5,127.5 H1267.5 V865.5 H1164.5 Z M1164.5,200.5 H1267.5 M1164.5,274.5 H1267.5 M1164.5,348.5 H1267.5 M1164.5,422.5 H1267.5 M1164.5,496.5 H1267.5 M1164.5,570.5 H1267.5 M1164.5,644.5 H1267.5 M1164.5,718.5 H1267.5 M1164.5,792.5 H1267.5 M1164.5,792.5 H1062.5 V865.5 H1164.5"/>
<g class="b" shape-rendering="auto" opacity="0.999">
<text transform="translate(1169.6,152.3) scale(1.045,1)">15</text>
<text transform="translate(1169.6,225.3) scale(1.045,1)">14</text>
<text transform="translate(1169.6,299.3) scale(1.045,1)">13</text>
<text transform="translate(1169.6,373.3) scale(1.045,1)">12</text>
<text transform="translate(1169.6,447.3) scale(1.045,1)">11</text>
<text transform="translate(1169.6,521.3) scale(1.045,1)">10</text>
<text transform="translate(1169.6,595.3) scale(1.045,1)">9</text>
<text transform="translate(1169.6,669.3) scale(1.045,1)">8</text>
<text transform="translate(1169.6,743.3) scale(1.045,1)">7</text>
<text transform="translate(1067.6,816.5) scale(1.045,1)">16</text>
</g>
<text opacity="0.999" x="1172" y="885.2" font-size="18.2" textLength="88.2" lengthAdjust="spacingAndGlyphs" stroke="#000" stroke-width="0.35" shape-rendering="auto">00163522</text>
<g class="icons">
<style>.ic{fill:#fff;stroke:#000;stroke-width:1.6;stroke-linejoin:round;stroke-linecap:round}.icn{fill:none;stroke:#000;stroke-width:1;}.ict{fill:none;stroke:#000;stroke-width:1.6;stroke-linejoin:round;stroke-linecap:round}</style>
<path class="ic" d="M1229.8,161.4 L1229.8,195.7 L1232.1,197.4 L1234.5,195.7 L1234.5,161.4"/>
<ellipse class="ic" cx="1232.4" cy="154.3" rx="12.7" ry="6.2"/>
<ellipse class="icn" cx="1232.4" cy="153.4" rx="10.6" ry="4.6"/>
<path class="ic" d="M1227,134.1 L1227,153.4 L1230.1,156.1 L1235.4,156.1 L1238.9,153.4 L1238.9,134.1"/>
<ellipse class="ic" cx="1233" cy="133.5" rx="5.9" ry="2.8"/>
<ellipse class="icn" cx="1233" cy="133.8" rx="3.4" ry="1.5"/>
<path class="ict" d="M1233.7,140.2 L1233.7,153.4 M1235.6,139.4 L1235.6,153.4"/>
<path class="ic" d="M1230.5,239.7 L1230.5,269.6 L1232.4,271 L1234.4,269.6 L1234.4,239.7"/>
<ellipse class="ic" cx="1232.6" cy="232.8" rx="10.9" ry="5.3"/>
<ellipse class="icn" cx="1232.6" cy="232" rx="8.8" ry="3.8"/>
<path class="ic" d="M1228,204.5 L1228,232.6 L1230.5,235.3 L1235.4,235.3 L1237.5,232.6 L1237.5,204.5"/>
<ellipse class="ic" cx="1232.8" cy="203.6" rx="4.8" ry="2.4"/>
<path class="icn" d="M1228.4,207.1 L1237.5,207.1"/>
<path class="ict" d="M1234,211.5 L1234,232.6 M1235.6,210.6 L1235.6,232.6"/>
<path class="ic" d="M1221.7,307 L1221.7,337.7 L1224.9,340.4 L1237.2,340.4 L1240.4,337.7 L1240.4,307"/>
<path class="icn" d="M1222.8,317.5 C1224,317.9 1227.4,319.6 1230.1,319.6 C1232.9,319.7 1237.8,318.2 1239.3,317.9 M1222.8,322.8 C1224,323.1 1227.4,324.8 1230.1,324.9 C1232.9,325 1237.8,323.4 1239.3,323.1 M1222.8,327.2 C1224,327.5 1227.4,329.2 1230.1,329.3 C1232.9,329.4 1237.8,327.8 1239.3,327.5 M1222.8,331.6 C1224,331.9 1227.4,333.6 1230.1,333.7 C1232.9,333.8 1237.8,332.2 1239.3,331.9 M1222.8,336 C1224,336.3 1227.4,338 1230.1,338.1 C1232.9,338.2 1237.8,336.6 1239.3,336.3"/>
<path class="ic" d="M1214,290.2 L1218.7,283.2 L1231.9,279.7 L1244.2,282.3 L1249.9,290.2 L1249.5,299.9 L1240.7,307.8 L1224,307.8 L1214.7,299.9Z"/>
<path class="ict" d="M1214,290.2 L1224,297.3 L1240.7,296.4 L1249.9,290.2 M1224,297.3 L1224,307.8 M1240.7,296.4 L1240.7,307.8"/>
<path class="icn" d="M1216.9,288.5 C1217.7,287.8 1218.9,285.5 1221.3,284.4 C1223.8,283.3 1228.4,282 1231.9,282 C1235.4,281.9 1240,282.9 1242.5,284.1 C1245,285.3 1246.1,288.2 1246.9,289"/>
<path class="ic" d="M1223.5,400.2 L1223.5,415.2 L1226.6,418.2 L1237.2,418.2 L1240.4,415.2 L1240.4,400.2"/>
<path class="icn" d="M1224.2,403.4 C1225.5,403.1 1229.3,401.6 1231.9,401.6 C1234.5,401.6 1238.4,403.1 1239.6,403.4 M1224.2,403.4 C1225.5,403.6 1229.3,404.8 1231.9,404.8 C1234.5,404.8 1238.4,403.6 1239.6,403.4 M1224.2,406.2 C1225.5,405.9 1229.3,404.4 1231.9,404.4 C1234.5,404.4 1238.4,405.9 1239.6,406.2 M1224.2,406.2 C1225.5,406.4 1229.3,407.6 1231.9,407.6 C1234.5,407.6 1238.4,406.4 1239.6,406.2 M1224.2,409 C1225.5,408.7 1229.3,407.3 1231.9,407.3 C1234.5,407.3 1238.4,408.7 1239.6,409 M1224.2,409 C1225.5,409.2 1229.3,410.4 1231.9,410.4 C1234.5,410.4 1238.4,409.2 1239.6,409 M1224.2,411.8 C1225.5,411.5 1229.3,410.1 1231.9,410.1 C1234.5,410.1 1238.4,411.5 1239.6,411.8 M1224.2,411.8 C1225.5,412.1 1229.3,413.2 1231.9,413.2 C1234.5,413.2 1238.4,412.1 1239.6,411.8 M1224.2,414.6 C1225.5,414.3 1229.3,412.9 1231.9,412.9 C1234.5,412.9 1238.4,414.3 1239.6,414.6 M1224.2,414.6 C1225.5,414.9 1229.3,416 1231.9,416 C1234.5,416 1238.4,414.9 1239.6,414.6" style="stroke-width:1.3"/>
<path class="ic" d="M1224,379.1 L1224,396.7 L1227.5,401.1 L1237.2,401.1 L1240.7,396.7 L1240.7,379.1"/>
<path class="k" d="M1224.2,380.9 L1227.5,380.9 L1227.5,387 L1224.2,391.4Z"/>
<path class="k" d="M1237.5,380.9 L1240.7,380.9 L1240.7,387 L1237.5,386.1Z"/>
<path class="icn" d="M1227.5,382.6 L1231.9,387.9 L1237.2,384.4"/>
<ellipse class="ic" cx="1231.9" cy="367.2" rx="23.8" ry="12.9"/>
<ellipse class="ic" cx="1231.9" cy="363.4" rx="23.8" ry="12.3"/>
<path class="icn" d="M1210.8,368.5 C1212.3,369.4 1216.1,372.6 1219.6,373.8 C1223.1,375.1 1227.8,376.1 1231.9,376.1 C1236,376.1 1240.7,375.1 1244.2,373.8 C1247.7,372.6 1251.6,369.4 1253,368.5"/>
<path class="icn" d="M1226.6,363.3 L1230.1,360.6 L1233.7,361.5 L1238.1,361.1 L1238.6,365 L1233.7,366.4 L1231,367.1 L1227.5,365.9Z"/>
<path class="ic" d="M1216.9,463.4 L1222.2,485.4 L1228.4,488 L1230.1,491 L1236.3,491 L1238.1,487.5 L1243.3,485.4 L1248.6,463.4Z"/>
<path class="ict" d="M1222.2,467.8 L1225.7,487.1 M1242.5,467.8 L1240.4,486.3 M1224.9,473.1 L1241.6,473.1 M1227.5,473.9 L1230.1,489.8 M1238.9,473.9 L1236.8,489.8"/>
<path class="ict" d="M1218.7,466 L1219.6,485.4 L1224,486.8 M1246.9,466 L1245.6,485.4 L1242.1,486.4"/>
<path class="ic" d="M1204.6,446.7 L1210.8,437 L1225.7,431.2 L1240.7,431.2 L1254.8,436.1 L1260.9,444.9 L1260.1,452.8 L1253,458.1 L1242.5,462.5 L1224.9,462.9 L1212.5,459 L1205.5,452.8Z"/>
<path class="icn" d="M1206.9,446.3 L1212.5,438.8 L1226.3,433.5 L1240.4,433.5 L1253.4,437.9 L1258.7,445.3 L1257.9,451.1 L1251.3,455.8 L1242.1,459.9 L1225.2,460.2 L1214,456.7 L1207.8,451.6Z"/>
<ellipse class="ict" cx="1232.8" cy="447.8" rx="8.6" ry="3.9"/>
<path class="ict" d="M1224.9,444.9 L1209,441.4 M1225.7,443.2 L1210.8,437.5 M1228.4,441.4 L1224.5,432.6 M1231,441 L1227.5,431.7 M1237.2,441 L1239.8,431.7 M1239.3,441.7 L1242.5,432.2 M1241.1,444 L1255.7,439.6 M1241.6,445.8 L1259.2,444 M1240.7,449.3 L1258.3,452.8 M1238.9,451.1 L1253.9,457.2 M1237.2,452 L1243.3,461.6 M1235.1,452.3 L1240.7,462.2 M1228.4,452.3 L1223.5,462.2 M1226.6,451.6 L1220.5,461.1 M1224.5,449.8 L1210.8,457.6 M1223.8,448.4 L1207.3,452.8"/>
<path class="ic" d="M1191.4,530.8 L1214.3,515.7 L1221.3,514.9 L1222.2,517.9 L1228.4,520.6 L1231.9,523.2 L1239.8,525 L1240.7,529.4 L1247.7,528.5 L1263.6,536.4 L1263.6,548.7 L1235.4,561.9 L1191.4,533.2Z"/>
<path class="ict" d="M1191.4,530.8 L1235.4,549.6 L1263.6,536.4 M1235.4,549.6 L1235.4,561.9"/>
<path class="icn" d="M1195.8,530.3 L1216.1,517.9 L1258.3,537.3 L1236.3,547Z"/>
<path class="icn" d="M1217.8,520.6 L1235.4,538.2 L1240.7,536.4 L1223.1,522.3Z M1219.6,527.6 L1231.9,539.9 M1221.3,541.7 L1240.7,546.1 L1253,538.2 M1210.8,527.6 L1216.1,530.3 M1203.8,531.1 L1210.8,535.5 M1209,538.2 L1216.1,540.8 M1224.9,525 L1233.7,527.6 M1230.1,520.6 L1237.2,527.6 M1200.2,527.6 L1205.5,530.3 M1216.1,524.1 L1219.6,527.6 M1228.4,529.4 L1242.5,531.1 M1231.9,541.7 L1246,536.4"/>
<path class="ic" d="M1214.7,599.6 L1214.7,637.4 L1217.8,640.9 L1229.3,640.9 L1232.8,637.4 L1232.8,599.6"/>
<path class="icn" d="M1215.7,611.9 C1216.9,612.2 1220.4,613.7 1223.1,613.7 C1225.8,613.7 1230.4,612.2 1231.9,611.9 M1215.7,617.2 C1216.9,617.5 1220.4,618.9 1223.1,618.9 C1225.8,618.9 1230.4,617.5 1231.9,617.2 M1215.7,621.6 C1216.9,621.9 1220.4,623.3 1223.1,623.3 C1225.8,623.3 1230.4,621.9 1231.9,621.6 M1215.7,626 C1216.9,626.3 1220.4,627.7 1223.1,627.7 C1225.8,627.7 1230.4,626.3 1231.9,626 M1215.7,630.4 C1216.9,630.7 1220.4,632.1 1223.1,632.1 C1225.8,632.1 1230.4,630.7 1231.9,630.4 M1215.7,634.8 C1216.9,635.1 1220.4,636.5 1223.1,636.5 C1225.8,636.5 1230.4,635.1 1231.9,634.8"/>
<ellipse class="ic" cx="1223.5" cy="592.2" rx="17.2" ry="8.8"/>
<ellipse class="ic" cx="1223.5" cy="589.6" rx="17.2" ry="8.6"/>
<path class="ic" d="M1210.8,579.4 L1209.9,589 L1216.1,594.3 L1231,594.3 L1237.2,589 L1236.8,579.4"/>
<ellipse class="ic" cx="1224" cy="580.2" rx="13.2" ry="7"/>
<path class="ict" d="M1217.8,578.5 L1220.5,576.2 L1227.5,576.2 L1230.1,578.5 L1227.5,582 L1219.9,582Z"/>
<path class="icn" d="M1219.9,582 L1221,578.5 L1227,578.5 L1227.5,582"/>
<path class="ic" d="M1213.4,695.5 L1218.7,707.8 L1225.7,712.2 L1232.8,712.2 L1238.1,707.8 L1242.5,696.4Z"/>
<path class="ict" d="M1224,697.3 L1228.4,711.3 M1235.4,697.3 L1232.8,711.3 M1216.9,699 L1222.2,708.7 M1228.4,702.5 L1231.9,707.8 L1233.7,700.8"/>
<ellipse class="ic" cx="1227.5" cy="681.4" rx="31.3" ry="15.8"/>
<path class="ic" d="M1205.5,666.5 C1205.8,667.8 1205.5,671.9 1207.3,674.4 C1209,676.9 1212.7,679.9 1216.1,681.4 C1219.4,682.9 1223.7,683.2 1227.5,683.2 C1231.3,683.2 1235.7,682.9 1238.9,681.4 C1242.2,679.9 1245.3,676.9 1246.9,674.4 C1248.4,671.9 1247.9,667.8 1248.1,666.5"/>
<path class="icn" d="M1210.8,678.8 C1212.3,679.7 1216.8,683 1219.6,684.1 C1222.4,685.1 1224.6,685.3 1227.5,685.3 C1230.4,685.3 1234.4,685.1 1237.2,684.1 C1240,683 1243,679.7 1244.2,678.8"/>
<ellipse class="ic" cx="1226.6" cy="665.6" rx="21" ry="11.4"/>
<ellipse class="ict" cx="1226.8" cy="666.2" rx="5.6" ry="3"/>
<path class="ic" d="M1213.4,767.5 L1218.7,778.9 L1225.7,783.8 L1232.8,783.8 L1238.1,778.9 L1240.7,767.5Z"/>
<path class="ict" d="M1224,769.2 L1228.4,782.4 M1235.4,769.2 L1232.8,782.4 M1216.9,771 L1222.2,780.7 M1228.4,774.5 L1231.9,779.8 L1233.7,772.7"/>
<ellipse class="ic" cx="1226.6" cy="752.5" rx="31.3" ry="15.8"/>
<ellipse class="ic" cx="1227" cy="743.9" rx="20.6" ry="11.8"/>
<ellipse class="ic" cx="1227.3" cy="745.4" rx="17.6" ry="9.6"/>
<path class="ict" d="M1214,737.6 L1240.7,751.1 M1217.8,735.3 L1243.9,748.1"/>
<path class="icn" d="M1216.1,736.7 L1242.5,749.9"/>
<path class="ic" d="M1170.5,817 L1186.7,824.7 L1232,798.5 L1261.6,813.3 L1261.6,824.3 L1222.8,845.6 L1229.2,848.4 L1229.2,858.5 L1170.5,858.5Z"/>
<path class="k" d="M1170.5,848.4 L1229.2,848.4 L1229.2,858.5 L1170.5,858.5Z"/>
<path class="k" d="M1261.6,813.3 L1261.6,824.3 L1222.8,845.6 L1213.5,841Z"/>
<path class="ic" d="M1078.1,841.9 L1081.2,836.2 L1085.8,834.6 L1091.9,821.2 L1105,813.5 L1108.5,815.6 L1111.9,814.8 L1114.2,810.4 L1117.7,805.8 L1121.2,805 L1121.5,802.7 L1128.8,802.3 L1129.4,805 L1133.5,805.5 L1145.8,813.1 L1158.8,827.3 L1158.8,831.9 L1130.8,849.6 L1129.2,854.2 L1125.4,855 L1123.8,853.5 L1113.1,857.7 L1111.5,860.4 L1107.7,860.4 L1102.3,857.3 L1093.1,851.9 L1083.8,844.2 L1080,845Z" style="stroke-width:1.9"/>
<path class="ict" d="M1093.1,822.1 L1103.8,825 L1110,830 L1116.2,830 L1134.6,818.1 L1143.8,814.2 M1103.8,824.6 L1125.4,813.8 L1133.8,818.1 M1125.4,813.8 L1125.4,806.5 M1085.8,841.2 L1105.4,852.3 L1156.2,828.8 M1145.8,813.1 L1155.4,828.1"/>
<path class="icn" d="M1093.1,822.1 L1104.6,815.2 L1108.8,816.9 L1113.1,815.4 L1115.4,810.8 L1123.8,806.5 M1126.5,807.3 L1143.8,814.6 M1106.2,824.1 L1125.4,814.4 M1106.9,825 L1125.8,815.2 M1089.2,841.9 L1093.1,838.8 M1099.2,847.3 L1103.8,845 M1106.2,850.4 L1116.2,848.1"/>
<path class="ict" d="M1093.1,821.9 L1086.5,840.4 M1096.9,823.5 L1095.4,841.2 M1100,825.8 L1093.8,844.2 M1103.1,827.3 L1100.8,838.1 M1106.2,829.6 L1098.5,848.1 M1108.5,831.2 L1108.5,847.3 M1111.5,833.5 L1111.5,848.8 M1115.4,833.5 L1116.9,848.1 M1116.2,830.4 L1119.2,844.2 M1122.3,827.3 L1123.8,844.2 M1123.8,825.8 L1128.5,840.4 M1130,822.7 L1131.5,838.1 M1131.5,821.2 L1136.9,836.5 M1137.7,818.1 L1139.2,831.2 M1139.2,817.3 L1143.1,833.5 M1143.8,815 L1147.7,832.7 M1146.2,814.2 L1151.5,825.8" style="stroke-width:1.8"/>
</g>
</svg></body></html>
